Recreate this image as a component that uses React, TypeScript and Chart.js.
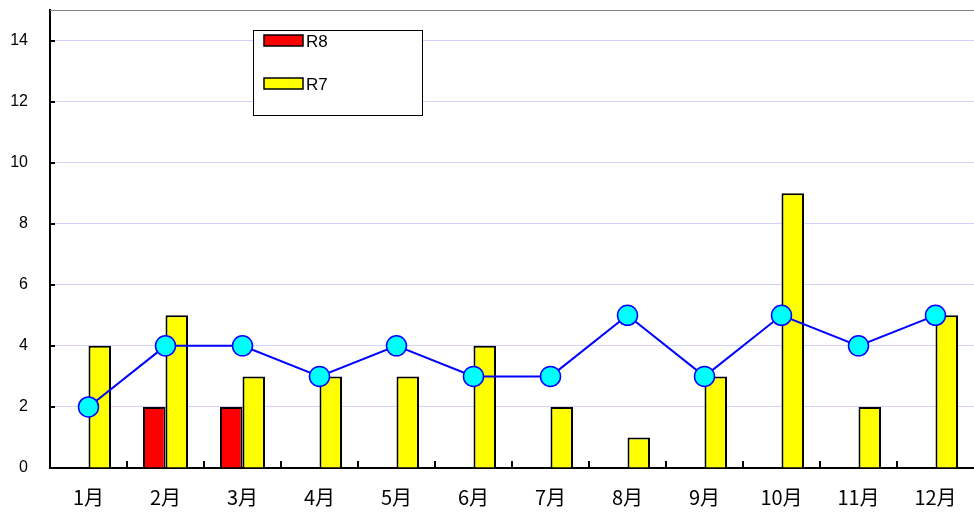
import React, { useEffect, useRef } from "react";
import { Chart, registerables } from "chart.js";

Chart.register(...registerables);

const categories = ["1月", "2月", "3月", "4月", "5月", "6月", "7月", "8月", "9月", "10月", "11月", "12月"];
const r8Values = [null, 2, 2, null, null, null, null, null, null, null, null, null];
const r7Values = [4, 5, 3, 3, 3, 4, 2, 1, 3, 9, 2, 5];
const lineValues = [2, 4, 4, 3, 4, 3, 3, 5, 3, 5, 4, 5];
const yTickValues = [0, 2, 4, 6, 8, 10, 12, 14];

const PLOT = { left: 50, top: 10, right: 974, bottom: 468 };

const framePlugin = {
  id: "frame",
  afterDatasetsDraw(chart: any) {
    const { ctx, chartArea } = chart;
    const { left, right, top, bottom } = chartArea;
    ctx.save();
    ctx.strokeStyle = "#808080";
    ctx.lineWidth = 1;
    ctx.beginPath();
    ctx.moveTo(left, top + 0.5);
    ctx.lineTo(right, top + 0.5);
    ctx.stroke();
    ctx.strokeStyle = "#000";
    ctx.lineWidth = 2;
    const ys = chart.scales.y;
    yTickValues.forEach((v) => {
      const py = Math.round(ys.getPixelForValue(v));
      ctx.beginPath();
      ctx.moveTo(left, py);
      ctx.lineTo(left + 5, py);
      ctx.stroke();
    });
    const xs = chart.scales.x;
    for (let i = 1; i < categories.length; i++) {
      const px = Math.round((xs.getPixelForValue(i - 1) + xs.getPixelForValue(i)) / 2);
      ctx.beginPath();
      ctx.moveTo(px, bottom);
      ctx.lineTo(px, bottom - 7);
      ctx.stroke();
    }
    ctx.restore();
  },
  afterDraw(chart: any) {
    const { ctx } = chart;
    ctx.save();
    ctx.fillStyle = "#fff";
    ctx.fillRect(253, 30, 169, 85);
    ctx.strokeStyle = "#000";
    ctx.lineWidth = 1;
    ctx.strokeRect(253.5, 30.5, 169, 85);
    const items = [chart.data.datasets[1], chart.data.datasets[2]];
    const ys = [35, 78];
    items.forEach((ds: any, i: number) => {
      ctx.fillStyle = ds.backgroundColor;
      ctx.fillRect(264, ys[i], 39, 11);
      ctx.strokeStyle = "#000";
      ctx.lineWidth = 1.5;
      ctx.strokeRect(264, ys[i], 39, 11);
      ctx.fillStyle = "#000";
      ctx.font = "17px 'Liberation Sans', Arial, sans-serif";
      ctx.textBaseline = "middle";
      ctx.textAlign = "left";
      ctx.fillText(ds.label, 306, ys[i] + 7);
    });
    ctx.restore();
  },
};

const layoutFix = {
  id: "layoutFix",
  afterLayout(chart: any) {
    const ca = chart.chartArea;
    ca.left = PLOT.left;
    ca.top = PLOT.top;
    ca.right = PLOT.right;
    ca.bottom = PLOT.bottom;
    ca.width = PLOT.right - PLOT.left;
    ca.height = PLOT.bottom - PLOT.top;
    const xs = chart.scales.x;
    xs.left = PLOT.left;
    xs.right = PLOT.right;
    xs.width = PLOT.right - PLOT.left;
    xs.top = PLOT.bottom;
    xs.bottom = 513;
    xs.configure();
    const ys = chart.scales.y;
    ys.top = PLOT.top;
    ys.bottom = PLOT.bottom;
    ys.height = PLOT.bottom - PLOT.top;
    ys.left = 0;
    ys.right = PLOT.left;
    ys.configure();
  },
};

export default function App() {
  const canvasRef = useRef<HTMLCanvasElement | null>(null);

  useEffect(() => {
    document.body.style.margin = "0";
    const canvas = canvasRef.current;
    if (!canvas) return;
    const chart = new Chart(canvas, {
      type: "bar",
      data: {
        labels: categories,
        datasets: [
          {
            type: "line",
            label: "line",
            data: lineValues,
            borderColor: "#0000ff",
            borderWidth: 2,
            pointRadius: 10,
            pointBackgroundColor: "#00ffff",
            pointBorderColor: "#0000ff",
            pointBorderWidth: 1.5,
            tension: 0,
            order: 0,
          } as any,
          {
            label: "R8",
            data: r8Values,
            backgroundColor: "#ff0000",
            borderColor: "#000",
            borderWidth: 2,
            borderSkipped: "bottom",
            order: 1,
          },
          {
            label: "R7",
            data: r7Values,
            backgroundColor: "#ffff00",
            borderColor: "#000",
            borderWidth: 2,
            borderSkipped: "bottom",
            order: 1,
          },
        ],
      },
      options: {
        responsive: false,
        animation: false,
        layout: { padding: 0 },
        plugins: { legend: { display: false }, tooltip: { enabled: false } },
        datasets: { bar: { categoryPercentage: 0.585, barPercentage: 1 } },
        scales: {
          x: {
            offset: true,
            grid: { display: true, color: "rgba(0,0,0,0)", drawTicks: false },
            border: { display: true, color: "#000", width: 2 },
            ticks: {
              color: "#000",
              padding: 17,
              maxRotation: 0,
              autoSkip: false,
              font: { family: "'Noto Sans CJK JP', sans-serif", size: 20 },
            },
          },
          y: {
            min: 0,
            max: 15,
            afterBuildTicks(scale: any) {
              scale.ticks = yTickValues.map((v) => ({ value: v }));
            },
            grid: { color: "#d2d2ff", lineWidth: 1, drawTicks: false },
            border: { display: true, color: "#000", width: 2 },
            ticks: {
              color: "#000",
              padding: 22,
              font: { family: "'Liberation Sans', Arial, sans-serif", size: 16 },
            },
          },
        },
      },
      plugins: [layoutFix, framePlugin],
    });
    return () => chart.destroy();
  }, []);

  return (
    <div style={{ width: 974, height: 513 }}>
      <canvas ref={canvasRef} width={974} height={513} style={{ display: "block" }} />
    </div>
  );
}
